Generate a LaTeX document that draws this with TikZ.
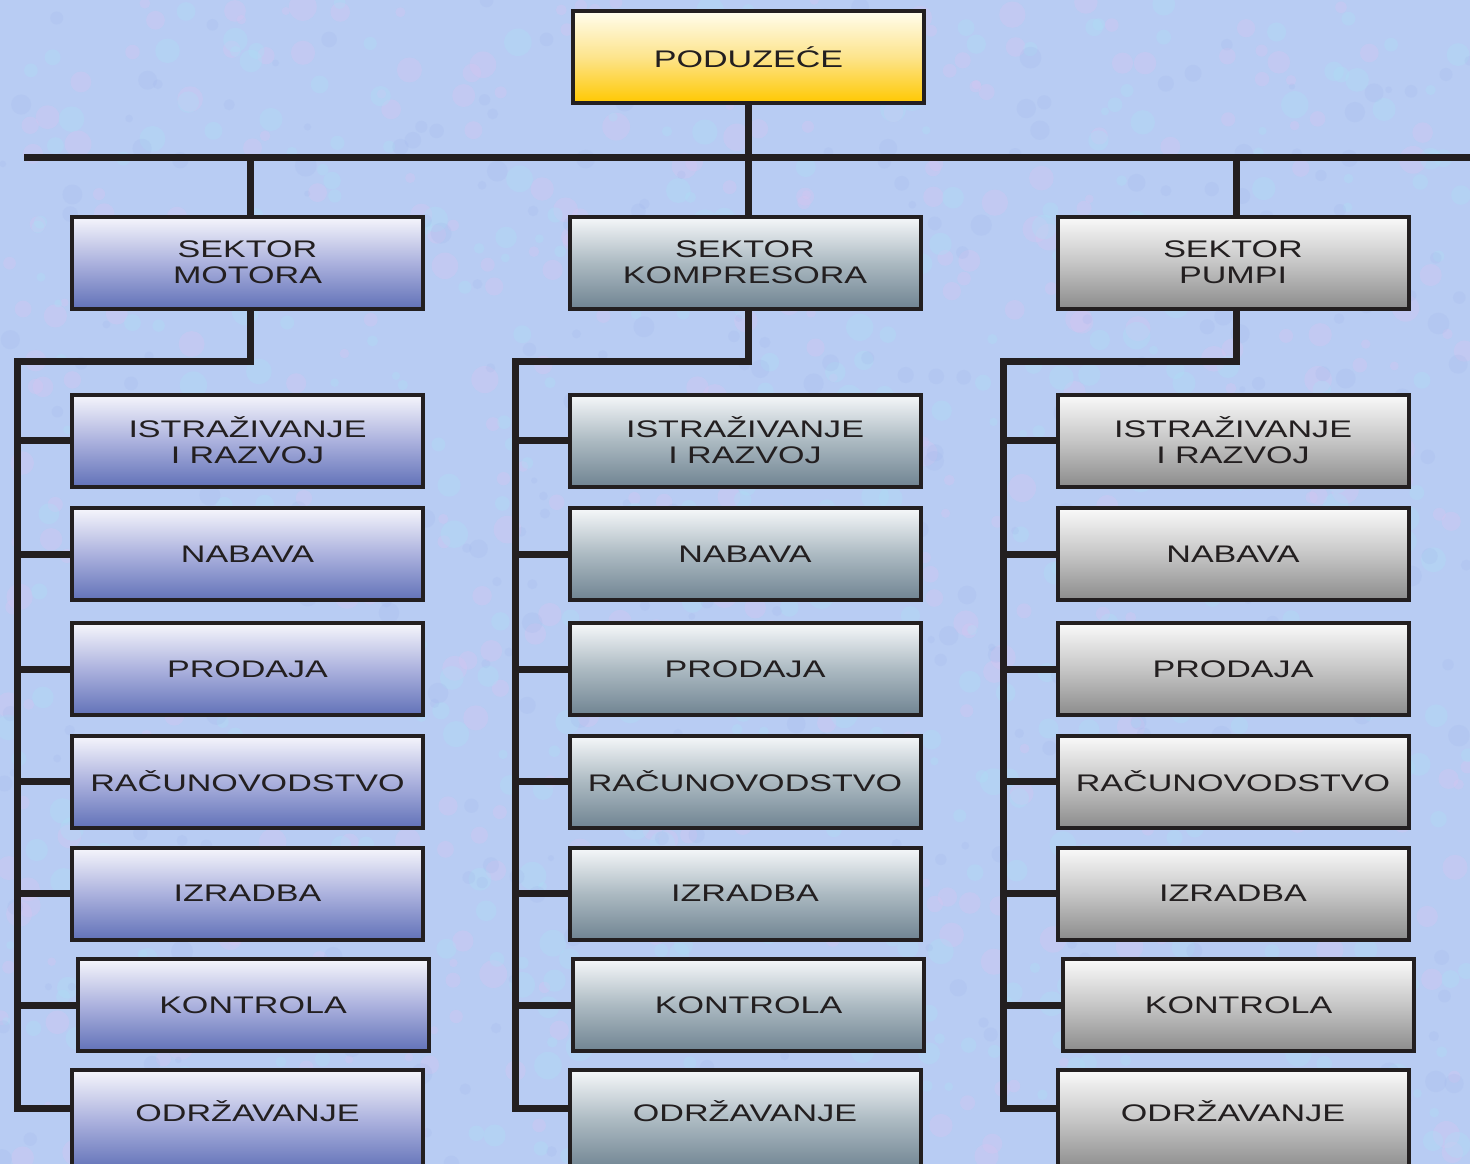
\documentclass[tikz,border=0pt]{standalone}
\usepackage{fontspec}
\setmainfont{Liberation Sans}
\newfontfamily\boxfont[FakeStretch=1.42]{Liberation Sans}
\definecolor{ink}{RGB}{35,31,32}
\definecolor{bgc}{RGB}{184,204,243}
\definecolor{bgpink}{RGB}{218,196,240}
\definecolor{bgcyan}{RGB}{172,224,246}
\definecolor{bgblue}{RGB}{160,182,236}
\definecolor{yTop}{RGB}{255,253,238}
\definecolor{yMid}{RGB}{253,228,140}
\definecolor{yBot}{RGB}{255,200,0}
\definecolor{mTop}{RGB}{246,246,252}
\definecolor{mMid}{RGB}{172,178,222}
\definecolor{mBot}{RGB}{98,114,184}
\definecolor{kTop}{RGB}{246,248,250}
\definecolor{kMid}{RGB}{172,186,194}
\definecolor{kBot}{RGB}{112,132,146}
\definecolor{pTop}{RGB}{250,250,250}
\definecolor{pMid}{RGB}{198,198,198}
\definecolor{pBot}{RGB}{140,140,140}
\tikzset{
  basebox/.style={draw=ink, line width=4pt, minimum width=351pt, minimum height=92pt,
    inner sep=0pt, align=center, text=ink,
    font={\boxfont\fontsize{24}{26}\selectfont}},
  topbox/.style={basebox, top color=yTop, bottom color=yBot, middle color=yMid},
  mbox/.style={basebox, top color=mTop, bottom color=mBot, middle color=mMid},
  kbox/.style={basebox, top color=kTop, bottom color=kBot, middle color=kMid},
  pbox/.style={basebox, top color=pTop, bottom color=pBot, middle color=pMid},
  conn/.style={draw=ink, line width=7pt, line join=miter},
}
\begin{document}
\begin{tikzpicture}[x=1pt,y=-1pt]
\clip (0,0) rectangle (1470,1164);
\fill[bgc] (0,0) rectangle (1470,1164);
% background texture
\pgfmathsetseed{11}
\foreach \i in {1,...,500}{
  \pgfmathsetmacro\rx{rnd*1470}\pgfmathsetmacro\ry{rnd*1164}\pgfmathsetmacro\rr{4+rnd*10}
  \fill[bgpink, opacity=0.3] (\rx,\ry) circle (\rr);
}
\foreach \i in {1,...,500}{
  \pgfmathsetmacro\rx{rnd*1470}\pgfmathsetmacro\ry{rnd*1164}\pgfmathsetmacro\rr{4+rnd*10}
  \fill[bgcyan, opacity=0.3] (\rx,\ry) circle (\rr);
}
\foreach \i in {1,...,400}{
  \pgfmathsetmacro\rx{rnd*1470}\pgfmathsetmacro\ry{rnd*1164}\pgfmathsetmacro\rr{3+rnd*8}
  \fill[bgblue, opacity=0.2] (\rx,\ry) circle (\rr);
}

% coordinates for the main horizontal line and the buses
\coordinate (hl) at (24,157);
\coordinate (hr) at (1475,157);
\coordinate (bm) at (17,361);
\coordinate (bk) at (515,361);
\coordinate (bp) at (1003,361);

\draw[conn] (hl) -- (hr);

% nodes
\node[topbox] (top) at (748.5,57) {PODUZEĆE};

\node[mbox] (sm) at (247.5,262.5) {SEKTOR\\MOTORA};
\node[kbox] (sk) at (745,262.5) {SEKTOR\\KOMPRESORA};
\node[pbox] (sp) at (1233,262.5) {SEKTOR\\PUMPI};

% Motora column
\node[mbox] (m1) at (247.5,440.5) {ISTRAŽIVANJE\\I RAZVOJ};
\node[mbox] (m2) at (247.5,554) {NABAVA};
\node[mbox] (m3) at (247.5,669) {PRODAJA};
\node[mbox] (m4) at (247.5,781.5) {RAČUNOVODSTVO};
\node[mbox] (m5) at (247.5,893.5) {IZRADBA};
\node[mbox] (m6) at (253,1005) {KONTROLA};
\node[mbox, minimum height=100pt] (m7) at (247.5,1120) {ODRŽAVANJE\\[-8pt]};

% Kompresora column
\node[kbox] (k1) at (745,440.5) {ISTRAŽIVANJE\\I RAZVOJ};
\node[kbox] (k2) at (745,554) {NABAVA};
\node[kbox] (k3) at (745,669) {PRODAJA};
\node[kbox] (k4) at (745,781.5) {RAČUNOVODSTVO};
\node[kbox] (k5) at (745,893.5) {IZRADBA};
\node[kbox] (k6) at (748.5,1005) {KONTROLA};
\node[kbox, minimum height=100pt] (k7) at (745,1120) {ODRŽAVANJE\\[-8pt]};

% Pumpi column
\node[pbox] (p1) at (1233,440.5) {ISTRAŽIVANJE\\I RAZVOJ};
\node[pbox] (p2) at (1233,554) {NABAVA};
\node[pbox] (p3) at (1233,669) {PRODAJA};
\node[pbox] (p4) at (1233,781.5) {RAČUNOVODSTVO};
\node[pbox] (p5) at (1233,893.5) {IZRADBA};
\node[pbox] (p6) at (1238.5,1005) {KONTROLA};
\node[pbox, minimum height=100pt] (p7) at (1233,1120) {ODRŽAVANJE\\[-8pt]};

% connectors from the main line
\draw[conn] (top.south) -- (top.south |- sk.north);
\draw[conn] ([xshift=2.5pt]sm.north) -- ([xshift=2.5pt]sm.north |- hl);
\draw[conn] ([xshift=3pt]sp.north) -- ([xshift=3pt]sp.north |- hl);

% buses
\draw[conn] ([xshift=2.5pt]sm.south) |- (bm) |- ([yshift=12pt]m7.west);
\draw[conn] ([xshift=3pt]sk.south) |- (bk) |- ([yshift=12pt]k7.west);
\draw[conn] ([xshift=3pt]sp.south) |- (bp) |- ([yshift=12pt]p7.west);

% branches
\foreach \n in {m1,m2,m3,m4,m5,m6}{\draw[conn] (bm |- \n.west) -- (\n.west);}
\foreach \n in {k1,k2,k3,k4,k5,k6}{\draw[conn] (bk |- \n.west) -- (\n.west);}
\foreach \n in {p1,p2,p3,p4,p5,p6}{\draw[conn] (bp |- \n.west) -- (\n.west);}
\end{tikzpicture}
\end{document}
